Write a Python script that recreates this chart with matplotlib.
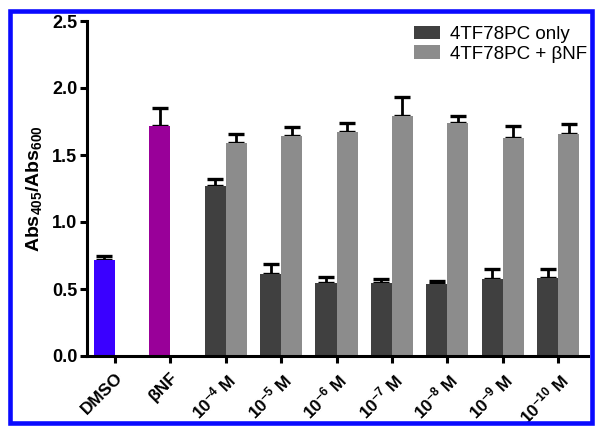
import matplotlib
matplotlib.use("Agg")
import matplotlib.pyplot as plt
import numpy as np
from matplotlib.patches import Rectangle

plt.rcParams['font.family'] = ['Liberation Sans', 'DejaVu Sans']
plt.rcParams['mathtext.fontset'] = 'custom'
plt.rcParams['mathtext.rm'] = 'Liberation Sans:bold'
plt.rcParams['mathtext.it'] = 'Liberation Sans:bold'
plt.rcParams['mathtext.bf'] = 'Liberation Sans:bold'

categories = ['DMSO', 'βNF', '10$^{-4}$ M', '10$^{-5}$ M', '10$^{-6}$ M', '10$^{-7}$ M',
              '10$^{-8}$ M', '10$^{-9}$ M', '10$^{-10}$ M']
control_values = [0.716, 1.72]
control_err = [0.034, 0.13]
control_colors = ['#3a00ff', '#990099']
only_values = [1.27, 0.612, 0.545, 0.547, 0.535, 0.572, 0.582]
only_err = [0.05, 0.078, 0.042, 0.03, 0.025, 0.075, 0.065]
bnf_values = [1.59, 1.64, 1.674, 1.79, 1.74, 1.63, 1.66]
bnf_err = [0.065, 0.07, 0.063, 0.145, 0.05, 0.086, 0.07]
series_names = ['4TF78PC only', '4TF78PC + βNF']

fig = plt.figure(figsize=(6.01, 4.32), dpi=100)
ax = fig.add_axes([87/601, 1-356/432, (588-87)/601, (356-21)/432])

w = 0.38
x = np.arange(len(categories))
ekw = dict(elinewidth=2.0, capthick=2.4, capsize=5.5, ecolor='black')
for i, (v, e, c) in enumerate(zip(control_values, control_err, control_colors)):
    ax.bar(x[i] - w/2, v, width=w, color=c, zorder=2)
    ax.errorbar(x[i] - w/2, v, yerr=[[0], [e]], fmt='none', zorder=1, **ekw)
xg = x[2:]
ax.bar(xg - w/2, only_values, width=w, color='#404040', label=series_names[0], zorder=2)
ax.bar(xg + w/2, bnf_values, width=w, color='#8c8c8c', label=series_names[1], zorder=2)
ax.errorbar(xg - w/2, only_values, yerr=[np.zeros(len(only_err)), only_err], fmt='none', zorder=1, **ekw)
ax.errorbar(xg + w/2, bnf_values, yerr=[np.zeros(len(bnf_err)), bnf_err], fmt='none', zorder=1, **ekw)

ax.set_xlim(-0.505, 8.54)
ax.set_ylim(0, 2.5)
ax.set_yticks([0, 0.5, 1.0, 1.5, 2.0, 2.5])
ax.set_yticklabels(['0.0', '0.5', '1.0', '1.5', '2.0', '2.5'], fontsize=13, fontweight='bold')
ax.set_xticks(x)
ax.set_xticklabels(categories, rotation=45, ha='right', rotation_mode='anchor',
                   fontsize=12.5, fontweight='bold')
for s in ['top', 'right']:
    ax.spines[s].set_visible(False)
for s in ['left', 'bottom']:
    ax.spines[s].set_linewidth(2.2)
ax.tick_params(axis='both', width=2.2, length=5, direction='out', pad=2)
ax.tick_params(axis='x', pad=5)
ax.set_ylabel('Abs$_{405}$/Abs$_{600}$', fontsize=14, fontweight='bold', labelpad=6)

leg = ax.legend(loc='upper right', bbox_to_anchor=(1.02, 1.02), frameon=False,
                fontsize=13.5, handlelength=1.4, handleheight=0.7, handletextpad=0.5,
                labelspacing=0.15, borderaxespad=0.2)

fig.patches.append(Rectangle((9.5/601, 1-423/432), (591.5-9.5)/601, (423-10.5)/432,
                             transform=fig.transFigure, fill=False, edgecolor='#0a0aff',
                             linewidth=3.3, zorder=10))
fig.savefig('out.png', dpi=100)
